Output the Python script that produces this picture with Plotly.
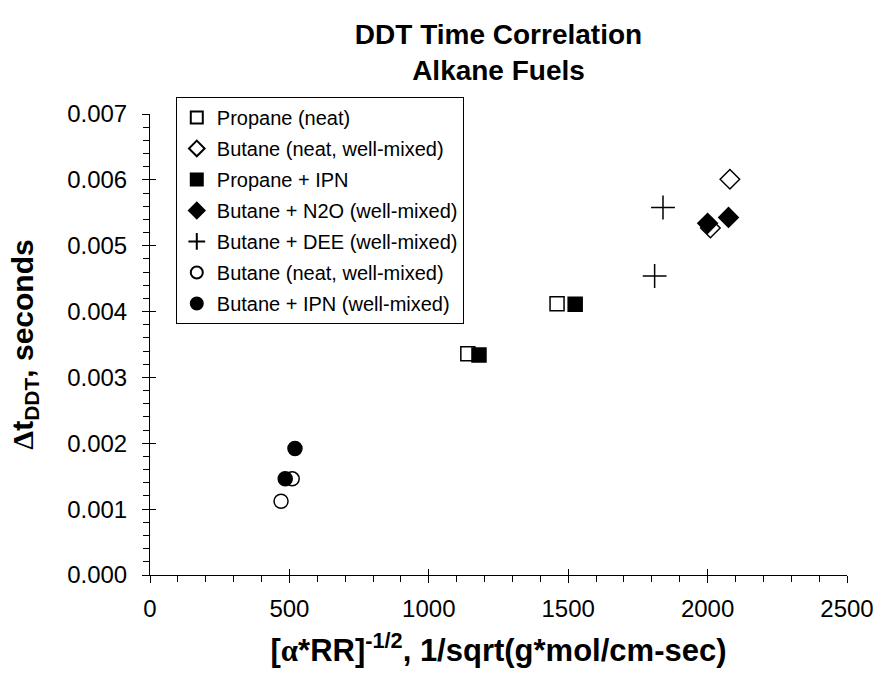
import plotly.graph_objects as go

# Data
series_names = [
    "Propane (neat)",
    "Butane (neat, well-mixed)",
    "Propane + IPN",
    "Butane + N2O (well-mixed)",
    "Butane + DEE (well-mixed)",
    "Butane (neat, well-mixed)",
    "Butane + IPN (well-mixed)",
]
propane_neat_x = [1140, 1460]
propane_neat_y = [0.00336, 0.00412]
butane_neat_d_x = [2010, 2080]
butane_neat_d_y = [0.00527, 0.00601]
propane_ipn_x = [1180, 1525]
propane_ipn_y = [0.00334, 0.00411]
butane_n2o_x = [2000, 2075]
butane_n2o_y = [0.00534, 0.00543]
butane_dee_x = [1840, 1810]
butane_dee_y = [0.00558, 0.00454]
butane_neat_c_x = [470, 510]
butane_neat_c_y = [0.00112, 0.00146]
butane_ipn_x = [485, 520]
butane_ipn_y = [0.00146, 0.00192]

xs = [propane_neat_x, butane_neat_d_x, propane_ipn_x, butane_n2o_x,
      butane_dee_x, butane_neat_c_x, butane_ipn_x]
ys = [propane_neat_y, butane_neat_d_y, propane_ipn_y, butane_n2o_y,
      butane_dee_y, butane_neat_c_y, butane_ipn_y]
symbols = ["square", "diamond", "square", "diamond", "cross-thin", "circle", "circle"]
fills = ["white", "white", "black", "black", "black", "white", "black"]
sizes = [14, 15, 14, 15, 17, 14, 14]

fig = go.Figure()
for i, name in enumerate(series_names):
    fig.add_trace(go.Scatter(
        x=xs[i], y=ys[i], mode="markers", name=name,
        legendgroup=f"g{i}",
        marker=dict(symbol=symbols[i], size=sizes[i], color=fills[i],
                    line=dict(color="black", width=1.5)),
    ))

# overlay axes for the inward half of the major ticks
fig.add_trace(go.Scatter(x=[None], y=[None], xaxis="x2", yaxis="y2",
                         showlegend=False, hoverinfo="skip"))

font = "Arial, Liberation Sans, sans-serif"
serif = "Times New Roman, Liberation Serif, serif"
fig.update_layout(
    width=889, height=678,
    margin=dict(l=150, r=42, t=114, b=103),
    paper_bgcolor="white", plot_bgcolor="white",
    font=dict(family=font, color="black"),
    title=dict(text="<b>DDT Time Correlation<br>Alkane Fuels</b>",
               x=0.5, xref="paper", xanchor="center", y=0.935, yanchor="top",
               font=dict(size=28, family=font)),
    showlegend=True,
    legend=dict(x=0.037, y=1.037, xanchor="left", yanchor="top",
                bordercolor="black", borderwidth=1, bgcolor="white",
                font=dict(size=20, family=font), tracegroupgap=2,
                itemwidth=30, itemsizing="constant"),
    xaxis=dict(range=[0, 2500], dtick=500, showline=True, linecolor="black",
               linewidth=1, ticks="outside", ticklen=7, tickcolor="black",
               showgrid=False, zeroline=False, tickfont=dict(size=24),
               ticklabelstandoff=5,
               minor=dict(dtick=100, ticks="outside", ticklen=6, tickcolor="black"),
               title=dict(text=f"<b>[<span style='font-family:{serif}'>α</span>*RR]<sup>-1/2</sup>, 1/sqrt(g*mol/cm-sec)</b>",
                          font=dict(size=31), standoff=18)),
    yaxis=dict(range=[0, 0.007], dtick=0.001, tickformat=".3f", showline=True,
               linecolor="black", linewidth=1, ticks="outside", ticklen=7,
               tickcolor="black", showgrid=False, zeroline=False,
               tickfont=dict(size=24), ticklabelstandoff=10,
               minor=dict(dtick=0.0002, ticks="outside", ticklen=6, tickcolor="black"),
               title=dict(text=f"<b><span style='font-family:{serif}'>Δ</span>t<sub>DDT</sub>, seconds</b>",
                          font=dict(size=30), standoff=24)),
    xaxis2=dict(range=[0, 2500], dtick=500, overlaying="x",
                ticks="inside", ticklen=6, tickcolor="black",
                showticklabels=False, showgrid=False, zeroline=False,
                showline=False),
    yaxis2=dict(range=[0, 0.007], dtick=0.001, overlaying="y",
                ticks="inside", ticklen=6, tickcolor="black",
                showticklabels=False, showgrid=False, zeroline=False,
                showline=False),
)

fig.write_html("out.html")
